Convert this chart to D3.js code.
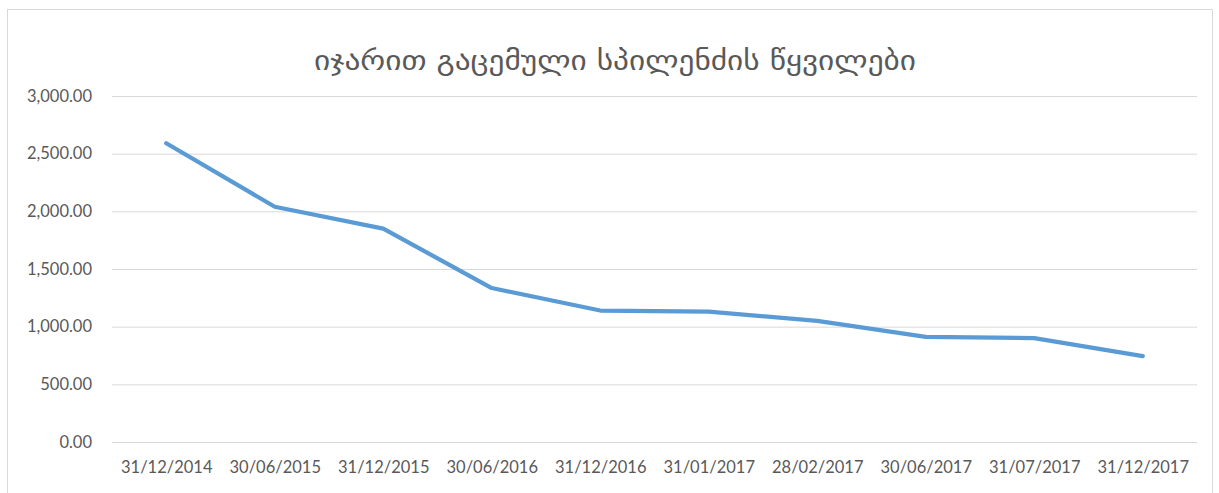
<!DOCTYPE html>
<html>
<head>
<meta charset="utf-8">
<script src="https://cdn.jsdelivr.net/npm/d3@7"></script>
<style>
  body { margin: 0; background: #fff; }
  svg { display: block; }
</style>
</head>
<body>
<div class="chart"></div>
<script>
// chart data
var chartTitle = "იჯარით გაცემული სპილენძის წყვილები";
var dates = ["31/12/2014", "30/06/2015", "31/12/2015", "30/06/2016", "31/12/2016",
             "31/01/2017", "28/02/2017", "30/06/2017", "31/07/2017", "31/12/2017"];
var pairs = [2590, 2040, 1850, 1335, 1140, 1130, 1050, 912, 900, 745];
var yTicks = [0, 500, 1000, 1500, 2000, 2500, 3000];

var W = 1219, H = 493;
var margin = {top: 96, right: 22, bottom: 51, left: 112};
var width = W - margin.left - margin.right;
var height = H - margin.top - margin.bottom;

var labelFont = "Lato, 'Open Sans', sans-serif";

var svg = d3.select(".chart")
    .append("svg")
    .attr("width", W)
    .attr("height", H);

// outer chart border
svg.append("rect")
    .attr("x", 7.5)
    .attr("y", 9.5)
    .attr("width", 1205)
    .attr("height", 500)
    .attr("fill", "none")
    .attr("stroke", "#d9d9d9");

var g = svg.append("g")
    .attr("transform", "translate(" + margin.left + "," + margin.top + ")");

var xScale = d3.scalePoint().domain(dates).range([0, width]).padding(0.5);
var yScale = d3.scaleLinear().domain([0, 3000]).range([height, 0]);

var fmt = d3.format(",.2f");

// gridlines + y labels
var yAxis = d3.axisLeft(yScale)
    .tickValues(yTicks)
    .tickSize(-width)
    .tickPadding(20)
    .tickFormat(fmt);

var yG = g.append("g").attr("class", "yaxis").call(yAxis);
yG.select(".domain").remove();
yG.selectAll(".tick line").attr("stroke", "#d9d9d9");
yG.selectAll(".tick text")
    .attr("fill", "#595959")
    .style("font-family", labelFont)
    .style("font-size", "16.5px");

var xAxis = d3.axisBottom(xScale).tickSize(0).tickPadding(19);
var xG = g.append("g")
    .attr("class", "xaxis")
    .attr("transform", "translate(0," + height + ")")
    .call(xAxis);
xG.select(".domain").remove();
xG.selectAll(".tick text")
    .attr("fill", "#595959")
    .style("font-family", labelFont)
    .style("font-size", "16.5px");

// the line
var line = d3.line()
    .x(function(d, i) { return xScale(dates[i]); })
    .y(function(d) { return yScale(d); });

g.append("path")
    .datum(pairs)
    .attr("d", line)
    .attr("fill", "none")
    .attr("stroke", "#5b9bd5")
    .attr("stroke-width", 4.25)
    .attr("stroke-linejoin", "round")
    .attr("stroke-linecap", "round");

// title
svg.append("text")
    .attr("x", 615)
    .attr("y", 70)
    .attr("text-anchor", "middle")
    .attr("fill", "#595959")
    .attr("textLength", 602)
    .attr("lengthAdjust", "spacingAndGlyphs")
    .style("font-family", "'DejaVu Sans', sans-serif")
    .style("font-size", "28px")
    .text(chartTitle);
</script>
</body>
</html>
